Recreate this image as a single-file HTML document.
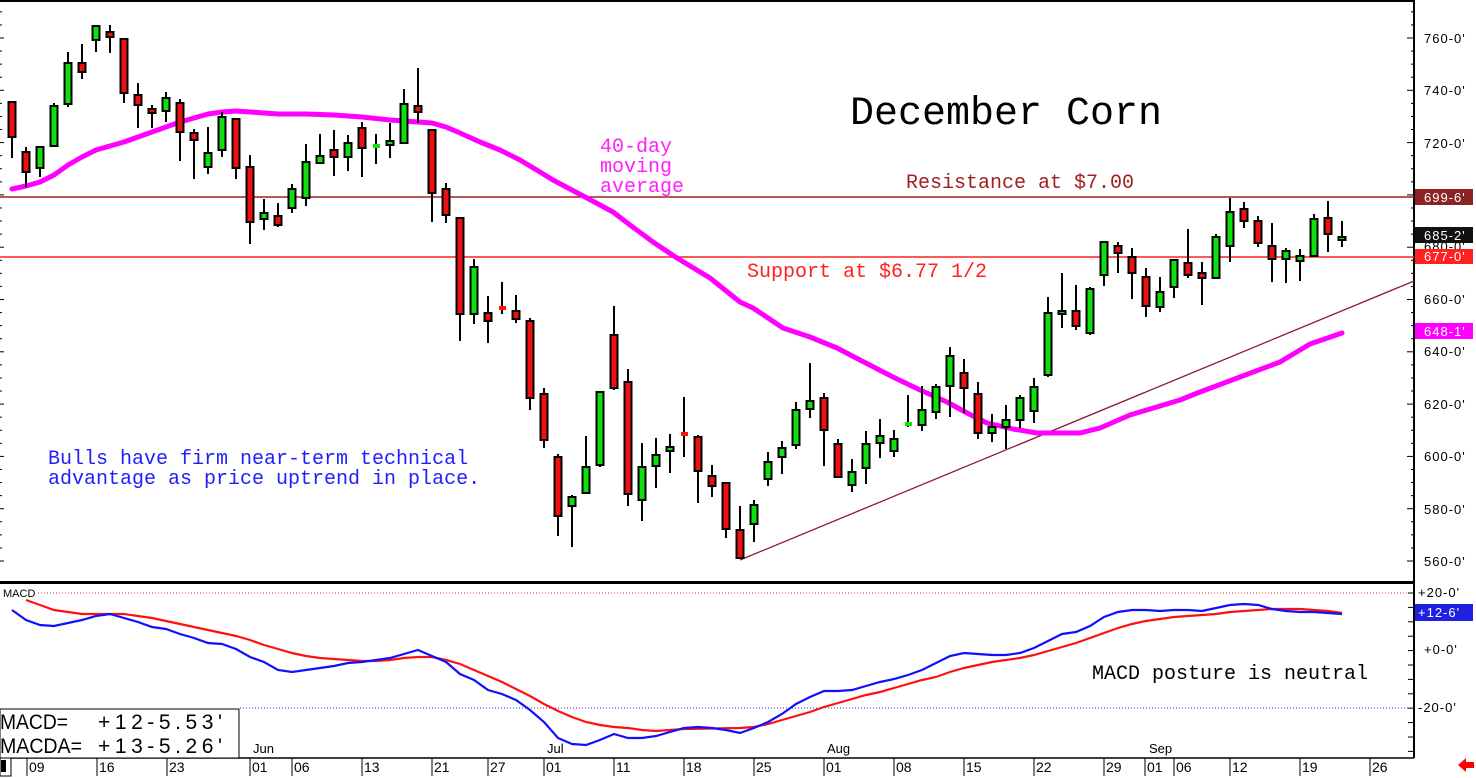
<!DOCTYPE html>
<html><head><meta charset="utf-8"><style>
html,body{margin:0;padding:0;background:#fff;}
svg{display:block;}
.m{font-family:"Liberation Mono",monospace;font-size:20px;}
.ax{font-family:"Liberation Sans",sans-serif;font-size:13px;letter-spacing:1px;}
</style></head><body>
<svg id="s" width="1476" height="778" viewBox="0 0 1476 778" xmlns="http://www.w3.org/2000/svg">
<rect width="1476" height="778" fill="#fff"/>
<line x1="0" y1="1" x2="1414" y2="1" stroke="#000" stroke-width="2"/>
<line x1="1414" y1="0" x2="1414" y2="758" stroke="#000" stroke-width="2"/>
<line x1="0" y1="582.5" x2="1414" y2="582.5" stroke="#000" stroke-width="3"/>
<line x1="0" y1="758" x2="1414" y2="758" stroke="#000" stroke-width="1.5"/>
<line x1="0" y1="197" x2="1414" y2="197" stroke="#a02020" stroke-width="1.5"/>
<line x1="0" y1="257" x2="1414" y2="257" stroke="#ff2020" stroke-width="1.5"/>
<line x1="740" y1="560" x2="1414" y2="281" stroke="#8b1a3a" stroke-width="1.3"/>
<line x1="38" y1="593" x2="1414" y2="593" stroke="#e03030" stroke-width="1" stroke-dasharray="1,2"/>
<line x1="240" y1="708" x2="1414" y2="708" stroke="#3030e0" stroke-width="1" stroke-dasharray="1,2"/>
<g id="g"></g>
<text x="850" y="124" class="m" style="font-size:40px">December Corn</text>
<text x="906" y="188" class="m" fill="#a02020">Resistance at $7.00</text>
<text x="747" y="277" class="m" fill="#ff2020">Support at $6.77 1/2</text>
<text x="600" y="152" class="m" fill="#ff20ff">40-day</text>
<text x="600" y="172" class="m" fill="#ff20ff">moving</text>
<text x="600" y="192" class="m" fill="#ff20ff">average</text>
<text x="48" y="464" class="m" fill="#2020ff">Bulls have firm near-term technical</text>
<text x="48" y="484" class="m" fill="#2020ff">advantage as price uptrend in place.</text>
<text x="1092" y="679" class="m" fill="#000">MACD posture is neutral</text>
<text x="3" y="597" font-family="Liberation Sans,sans-serif" font-size="11">MACD</text>
<rect x="0" y="709" width="239" height="49" fill="#fff" stroke="#000" stroke-width="1"/>
<text x="0" y="729" font-family="Liberation Sans,sans-serif" font-size="21" textLength="68" lengthAdjust="spacingAndGlyphs">MACD=</text>
<text x="98" y="729" font-family="Liberation Sans,sans-serif" font-size="21" textLength="124" lengthAdjust="spacing">+12-5.53'</text>
<text x="0" y="753" font-family="Liberation Sans,sans-serif" font-size="21" textLength="82" lengthAdjust="spacingAndGlyphs">MACDA=</text>
<text x="98" y="753" font-family="Liberation Sans,sans-serif" font-size="21" textLength="124" lengthAdjust="spacing">+13-5.26'</text>
<rect x="0" y="758" width="11" height="18" fill="#fff" stroke="#000"/>
<rect x="1" y="760" width="5" height="12" fill="#000"/>
<polygon points="1458,765 1466,758 1466,762 1474,762 1474,768 1466,768 1466,772" fill="#ff0000"/>
<g class="ax" fill="#000">
<text x="1424" y="43">760-0'</text><text x="1424" y="95">740-0'</text><text x="1424" y="148">720-0'</text>
<text x="1424" y="251">680-0'</text><text x="1424" y="304">660-0'</text><text x="1424" y="356">640-0'</text>
<text x="1424" y="409">620-0'</text><text x="1424" y="461">600-0'</text><text x="1424" y="514">580-0'</text>
<text x="1424" y="566">560-0'</text>
<text x="1418" y="597">+20-0'</text><text x="1424" y="654">+0-0'</text><text x="1418" y="712">-20-0'</text>
</g>
<rect x="1415" y="189" width="58" height="16" fill="#8b2525"/><text x="1424" y="202" class="ax" fill="#fff">699-6'</text>
<rect x="1415" y="227" width="58" height="16" fill="#111"/><text x="1424" y="240" class="ax" fill="#fff">685-2'</text>
<rect x="1415" y="249" width="58" height="15" fill="#ff2020"/><text x="1424" y="261" class="ax" fill="#fff">677-0'</text>
<rect x="1415" y="323" width="58" height="16" fill="#ff00ff"/><text x="1424" y="336" class="ax" fill="#fff">648-1'</text>
<rect x="1415" y="604" width="58" height="17" fill="#2020e0"/><text x="1418" y="617" class="ax" fill="#fff">+12-6'</text>
<g font-family="Liberation Sans,sans-serif" font-size="13" fill="#000">
<text x="253" y="753">Jun</text><text x="547" y="753">Jul</text><text x="827" y="753">Aug</text><text x="1149" y="753">Sep</text>
</g>
</svg>
<script>
var g=document.getElementById('g'),h='';
for(var p=560;p<=770;p+=5){var y=38+(760-p)*2.615;if(y<3||y>580)continue;var L=(p%20==0)?7:3;h+='<line x1="'+(1414-L)+'" y1="'+y+'" x2="1414" y2="'+y+'" stroke="#000"/>';h+='<line x1="0" y1="'+y+'" x2="'+(p%20==0?4:2)+'" y2="'+y+'" stroke="#000"/>';}
for(var y=593;y<=755;y+=14.4){h+='<line x1="1408" y1="'+y+'" x2="1414" y2="'+y+'" stroke="#000"/>';}
var days=[[27,'09'],[97,'16'],[167,'23'],[250,'01'],[292,'06'],[362,'13'],[432,'21'],[488,'27'],[544,'01'],[614,'11'],[684,'18'],[754,'25'],[824,'01'],[894,'08'],[964,'15'],[1034,'22'],[1104,'29'],[1145,'01'],[1174,'06'],[1230,'12'],[1300,'19'],[1370,'26']];
days.forEach(function(d){h+='<line x1="'+d[0]+'" y1="758" x2="'+d[0]+'" y2="776" stroke="#000"/><text x="'+(d[0]+2)+'" y="772" font-family="Liberation Sans,sans-serif" font-size="14">'+d[1]+'</text>';});
var ma=[[12,189],[26,186],[40,182],[54,175],[68,165],[82,157],[96,150],[110,146],[124,142],[138,137],[152,132],[166,127],[180,122],[194,118],[208,114],[222,112],[236,111],[250,112],[264,113],[278,114],[306,114],[334,115],[362,117],[390,120],[418,122],[432,123],[446,127],[460,133],[480,142],[500,150],[520,160],[540,172],[553,180],[587,198],[613,212],[630,225],[653,242],[677,258],[710,278],[740,302],[753,308],[783,328],[810,337],[837,348],[860,360],[893,377],[920,390],[947,402],[967,413],[987,423],[1013,429],[1037,433],[1060,433],[1080,433],[1100,428],[1130,415],[1160,406],[1180,400],[1200,392],[1240,377],[1280,362],[1310,344],[1342,333]];
h+='<polyline points="'+ma.join(' ')+'" fill="none" stroke="#ff00ff" stroke-width="5" stroke-linejoin="round" stroke-linecap="round"/>';
var C=[[102,158,102,137,'r'],[147,187,152,172,'r'],[147,177,147,168,'g'],[103,147,106,146,'g'],[52,107,63,104,'g'],[44,79,63,72,'r'],[25,52,26,40,'g'],[25,53,32,37,'r'],[39,103,39,93,'r'],[83,128,95,105,'r'],[105,128,109,113,'r'],[92,122,98,111,'g'],[99,161,103,132,'r'],[129,179,133,140,'r'],[127,174,153,167,'g'],[112,157,117,150,'g'],[119,179,119,168,'r'],[155,244,167,222,'r'],[199,230,213,219,'g'],[203,227,216,225,'r'],[184,213,189,208,'g'],[144,206,162,198,'g'],[134,164,156,163,'g'],[130,176,150,157,'r'],[135,171,143,157,'g'],[122,177,128,148,'r'],[134,164,146,146,'d'],[123,158,141,145,'g'],[89,143,104,143,'g'],[68,123,106,112,'r'],[130,222,130,193,'r'],[183,223,189,215,'r'],[217,341,218,314,'r'],[259,324,267,314,'g'],[296,343,313,321,'r'],[282,314,308,308,'e'],[295,323,311,319,'r'],[318,410,321,398,'r'],[388,448,394,440,'r'],[454,536,457,516,'r'],[495,547,497,506,'g'],[436,493,467,493,'g'],[391,467,392,465,'g'],[306,390,335,388,'r'],[369,506,382,494,'r'],[443,521,467,500,'g'],[438,488,455,466,'g'],[434,473,447,451,'g'],[397,457,434,434,'e'],[435,503,437,471,'r'],[465,497,476,486,'r'],[483,538,483,529,'r'],[506,559,530,558,'r'],[500,542,505,524,'g'],[452,486,462,479,'g'],[441,474,448,457,'g'],[402,449,410,445,'g'],[363,418,401,409,'g'],[393,466,398,430,'r'],[439,478,444,477,'r'],[459,492,472,485,'g'],[431,484,444,468,'g'],[419,458,436,443,'g'],[430,457,439,451,'g'],[395,427,424,424,'d'],[386,431,410,425,'g'],[384,419,387,412,'g'],[347,417,356,386,'g'],[359,413,373,388,'r'],[382,439,394,433,'r'],[414,442,427,433,'g'],[405,449,420,427,'g'],[395,428,398,420,'g'],[378,423,387,411,'g'],[297,377,313,375,'g'],[273,328,311,314,'g'],[285,330,311,326,'r'],[287,335,289,333,'g'],[241,286,242,275,'g'],[242,273,246,253,'r'],[248,299,257,273,'r'],[268,317,277,306,'r'],[277,312,292,307,'g'],[259,298,260,287,'g'],[229,278,263,275,'r'],[262,305,273,278,'r'],[234,278,237,278,'g'],[198,262,212,246,'g'],[202,228,209,221,'r'],[216,247,221,243,'r'],[223,282,246,259,'r'],[248,283,251,259,'g'],[249,281,256,261,'g'],[214,256,219,256,'g'],[201,252,218,234,'r'],[221,247,237,240,'g']];
C.forEach(function(c,i){var x=12+14*i;h+='<line x1="'+x+'" y1="'+c[0]+'" x2="'+x+'" y2="'+c[1]+'" stroke="#000" stroke-width="2"/>';
if(c[4]=='d'||c[4]=='e'){h+='<rect x="'+(x-3)+'" y="'+(c[2]-2)+'" width="7" height="4" fill="'+(c[4]=='d'?'#10e010':'#ff1010')+'"/>';return;}
var bh=Math.max(c[3]-c[2],3);h+='<rect x="'+(x-3.5)+'" y="'+c[2]+'" width="7" height="'+bh+'" fill="'+(c[4]=='g'?'#10e010':'#ee1010')+'" stroke="#000" stroke-width="2"/>';});
var bl=[[12,610],[26,620],[40,625],[54,626],[68,623],[82,620],[96,616],[110,614],[124,618],[138,622],[152,627],[166,629],[180,634],[194,638],[208,643],[222,644],[236,649],[250,657],[264,662],[278,670],[292,672],[306,670],[320,668],[334,666],[348,663],[362,662],[376,660],[390,658],[404,654],[418,650],[432,656],[446,662],[460,674],[474,680],[488,690],[502,694],[516,700],[530,710],[544,722],[558,738],[572,744],[586,745],[600,740],[614,734],[628,738],[642,738],[656,736],[670,732],[684,728],[698,727],[712,728],[726,730],[740,733],[754,728],[768,722],[782,714],[796,704],[810,697],[824,691],[838,691],[852,690],[866,686],[880,682],[894,679],[908,675],[922,670],[936,663],[950,656],[964,653],[978,654],[992,655],[1006,655],[1020,653],[1034,648],[1048,641],[1062,634],[1076,632],[1090,626],[1104,617],[1118,612],[1132,610],[1146,610],[1160,611],[1174,610],[1188,610],[1202,611],[1216,608],[1230,605],[1244,604],[1258,605],[1272,609],[1286,611],[1300,612],[1314,612],[1328,613],[1342,614]];
var rd=[[26,600],[40,605],[54,610],[68,612],[82,614],[110,614],[124,614],[138,616],[152,618],[166,621],[180,624],[194,627],[208,630],[222,633],[236,636],[250,640],[264,645],[278,649],[292,653],[306,656],[320,658],[334,659],[348,660],[362,661],[376,661],[390,660],[404,658],[418,657],[432,657],[446,660],[460,664],[474,670],[488,676],[502,682],[516,689],[530,696],[544,704],[558,711],[572,717],[586,722],[600,725],[614,727],[628,728],[642,730],[656,731],[670,730],[684,729],[740,728],[754,727],[768,724],[782,720],[796,716],[810,712],[824,707],[838,703],[852,699],[866,695],[880,692],[894,688],[908,684],[922,680],[936,677],[950,672],[964,668],[978,665],[992,662],[1006,660],[1020,658],[1034,655],[1048,651],[1062,647],[1076,643],[1090,638],[1104,633],[1118,628],[1132,624],[1146,621],[1160,619],[1174,617],[1188,616],[1202,615],[1216,614],[1230,612],[1244,611],[1258,610],[1272,609],[1300,609],[1314,610],[1328,611],[1342,613]];
h+='<polyline points="'+rd.join(' ')+'" fill="none" stroke="#ff1010" stroke-width="2.2"/>';
h+='<polyline points="'+bl.join(' ')+'" fill="none" stroke="#1010ff" stroke-width="2.2"/>';
g.innerHTML=h;
</script>
</body></html>
